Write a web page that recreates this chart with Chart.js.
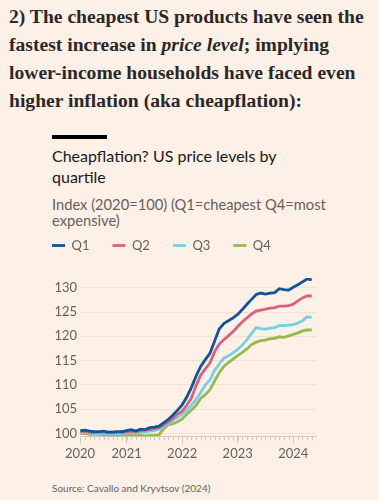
<!DOCTYPE html>
<html>
<head>
<meta charset="utf-8">
<script src="https://cdn.jsdelivr.net/npm/chart.js@4"></script>
<style>
  html, body { margin: 0; padding: 0; background: #fdf0e6; width: 379px; height: 500px; overflow: hidden; }
  .heading { position: absolute; left: 9px; top: 3px; font-family: "Liberation Serif", serif; font-weight: bold; font-size: 19.6px; line-height: 28px; color: #2a2826; white-space: nowrap; }
  .bar { position: absolute; left: 52px; top: 135px; width: 55px; height: 4px; background: #000; }
  .title { position: absolute; left: 52px; top: 145px; font-family: Lato, sans-serif; font-size: 16px; line-height: 21px; color: #1a1817; }
  .subtitle { position: absolute; left: 52px; top: 196px; font-family: Lato, sans-serif; font-size: 14.7px; line-height: 16px; color: #66605c; }
  .source { position: absolute; left: 52px; top: 482px; font-family: Lato, sans-serif; font-size: 10px; color: #66605c; }
  canvas { position: absolute; left: 0; top: 214px; }
</style>
</head>
<body>
<div class="heading">2) The cheapest US products have seen the<br>fastest increase in <i>price level</i>; implying<br>lower-income households have faced even<br>higher inflation (aka cheapflation):</div>
<div class="bar"></div>
<div class="title">Cheapflation? US price levels by<br>quartile</div>
<div class="subtitle">Index (2020=100) (Q1=cheapest Q4=most<br>expensive)</div>
<canvas id="chart" width="379" height="251"></canvas>
<div class="source">Source: Cavallo and Kryvtsov (2024)</div>
<script>
// monthly readings, Mar 2020 - May 2024
const months = [
  "2020-03","2020-04","2020-05","2020-06","2020-07","2020-08","2020-09","2020-10","2020-11","2020-12",
  "2021-01","2021-02","2021-03","2021-04","2021-05","2021-06","2021-07","2021-08","2021-09","2021-10","2021-11","2021-12",
  "2022-01","2022-02","2022-03","2022-04","2022-05","2022-06","2022-07","2022-08","2022-09","2022-10","2022-11","2022-12",
  "2023-01","2023-02","2023-03","2023-04","2023-05","2023-06","2023-07","2023-08","2023-09","2023-10","2023-11","2023-12",
  "2024-01","2024-02","2024-03","2024-04","2024-05"
];
const q1 = [100.6,100.7,100.5,100.4,100.4,100.5,100.3,100.3,100.4,100.4,
  100.6,100.8,100.5,100.9,100.8,101.2,101.3,101.5,102.2,102.9,103.8,104.8,
  105.9,107.5,109.5,111.8,113.8,115.2,116.5,119.0,121.5,122.6,123.2,123.8,
  124.5,125.5,126.6,127.6,128.6,128.9,128.7,128.9,129.0,129.8,129.6,129.5,
  130.1,130.6,131.2,131.8,131.6];
const q2 = [100.4,100.5,100.3,100.2,100.3,100.4,100.2,100.3,100.3,100.2,
  100.4,100.5,100.4,100.6,100.7,100.8,101.0,101.2,101.8,102.4,103.1,104.0,
  104.6,105.8,107.3,109.8,112.0,113.3,114.5,116.8,118.4,119.3,120.1,121.0,
  122.0,123.0,123.8,124.6,125.2,125.4,125.6,125.8,125.9,126.2,126.2,126.3,
  126.6,127.3,127.9,128.3,128.3];
const q3 = [100.2,100.3,100.1,100.0,100.0,100.1,99.9,100.0,100.0,99.9,
  100.1,100.2,100.1,100.3,100.3,100.5,100.6,100.9,101.4,102.0,102.7,103.3,
  104.0,104.8,105.8,107.0,108.5,110.0,111.0,113.0,114.3,115.5,116.0,116.6,
  117.3,118.2,119.3,120.6,121.8,121.6,121.5,121.7,121.8,122.2,122.2,122.3,
  122.4,122.7,123.2,124.0,123.9];
const q4 = [100.0,100.0,99.8,99.8,99.8,99.7,99.6,99.6,99.7,99.6,
  99.6,99.7,99.6,99.6,99.5,99.6,99.6,99.7,101.0,101.8,102.0,102.4,
  103.0,104.0,104.8,105.8,107.2,108.0,109.0,110.8,112.5,113.8,114.6,115.3,
  116.0,116.7,117.4,118.3,118.8,119.1,119.2,119.5,119.6,119.9,119.8,120.1,
  120.4,120.7,121.1,121.3,121.3];
const seriesNames = ["Q1", "Q2", "Q3", "Q4"];
const yearTicks = [2020, 2021, 2022, 2023, 2024];
const yTicks = [100, 105, 110, 115, 120, 125, 130];

const colors = ["#0f5499", "#dc5f80", "#72d1e3", "#97b94e"];
const toYear = m => +m.slice(0, 4) + (+m.slice(5, 7) - 1) / 12;
const xs = months.map(toYear);
const font = "Lato";

// short monthly ticks under the axis
const minorTicks = {
  id: "minorTicks",
  afterDraw(chart) {
    const sx = chart.scales.x;
    const c = chart.ctx;
    c.save();
    c.strokeStyle = "#d2c7bd";
    c.lineWidth = 1;
    xs.forEach(v => {
      const px = Math.round(sx.getPixelForValue(v)) + 0.5;
      c.beginPath();
      c.moveTo(px, sx.top);
      c.lineTo(px, sx.top + 4);
      c.stroke();
    });
    c.restore();
  }
};

// extra room between legend and plot
const legendGap = {
  id: "legendGap",
  beforeInit(chart) {
    const fit = chart.legend.fit;
    chart.legend.fit = function () {
      fit.call(this);
      this.height += 16;
    };
  }
};

const ctx = document.getElementById("chart").getContext("2d");

const chart = new Chart(ctx, {
  type: "line",
  data: {
    datasets: [q1, q2, q3, q4].map((vals, i) => ({
      label: seriesNames[i],
      data: vals.map((v, j) => ({ x: xs[j], y: v })),
      borderColor: colors[i],
      backgroundColor: colors[i],
      borderWidth: 2.8,
      pointRadius: 0,
      tension: 0,
      fill: false,
    })),
  },
  options: {
    responsive: false,
    animation: false,
    layout: { padding: { left: 29, right: 63, top: 2, bottom: 0 } },
    scales: {
      x: {
        type: "linear",
        min: 2020.16,
        max: 2024.41,
        afterBuildTicks: scale => {
          scale.ticks = yearTicks.map(y => ({ value: Math.max(y, scale.min) }));
        },
        ticks: {
          autoSkip: false,
          maxRotation: 0,
          padding: 3,
          color: "#66605c",
          font: { family: font, size: 13 },
          callback: v => String(Math.floor(v)),
        },
        grid: {
          drawOnChartArea: false,
          tickLength: 7,
          tickColor: "#d2c7bd",
        },
        border: { display: true, color: "#d2c7bd" },
      },
      y: {
        min: 99.4,
        max: 132,
        afterBuildTicks: scale => {
          scale.ticks = yTicks.map(v => ({ value: v }));
        },
        afterFit: scale => { scale.width = 51; },
        ticks: {
          padding: 3,
          color: "#66605c",
          font: { family: font, size: 13 },
        },
        grid: { color: "#efe1d6", drawTicks: false },
        border: { display: false },
      },
    },
    plugins: {
      legend: {
        position: "top",
        align: "start",
        labels: {
          usePointStyle: true,
          pointStyle: "line",
          pointStyleWidth: 13,
          padding: 23,
          color: "#66605c",
          font: { family: font, size: 13 },
        },
      },
      tooltip: { enabled: false },
    },
  },
  plugins: [minorTicks, legendGap],
});
</script>
</body>
</html>
